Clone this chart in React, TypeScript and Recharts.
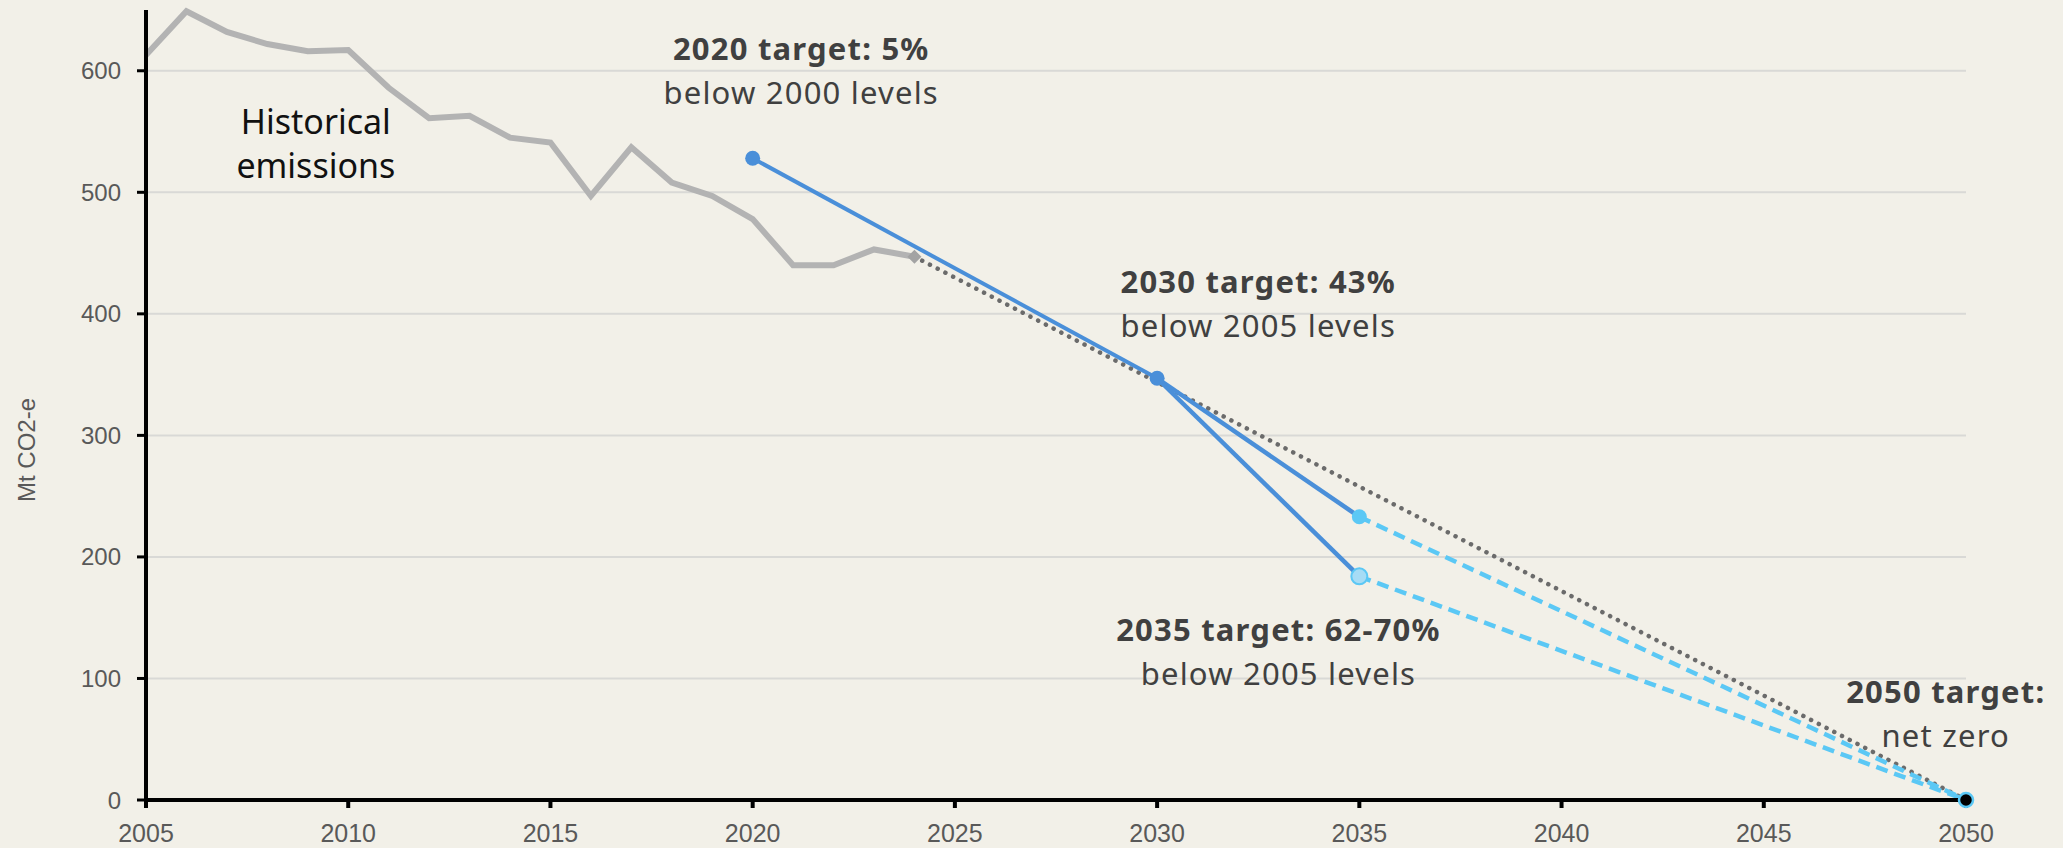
import React from "react";
import {
  LineChart,
  Line,
  XAxis,
  YAxis,
  CartesianGrid,
  ReferenceDot,
  Label,
} from "recharts";

// historical emissions, Mt CO2-e
const histYears = [
  2005, 2006, 2007, 2008, 2009, 2010, 2011, 2012, 2013, 2014, 2015, 2016,
  2017, 2018, 2019, 2020, 2021, 2022, 2023, 2024,
];
const histValues = [
  613, 649, 632, 622, 616, 617, 586, 561, 563, 545, 541, 497, 537, 508, 497,
  478, 440, 440, 453, 447,
];

// straight-line trend from latest year to net zero
const trendYears = [2024, 2050];
const trendValues = [447, 0];

// target pathways
const path2020Years = [2020, 2030];
const path2020Values = [528, 347];
const path2035Years = [2030, 2035];
const path2035HighValues = [347, 233];
const path2035LowValues = [347, 184];
const tailYears = [2035, 2050];
const tailHighValues = [233, 0];
const tailLowValues = [184, 0];

const xTicks = [2005, 2010, 2015, 2020, 2025, 2030, 2035, 2040, 2045, 2050];
const yTicks = [0, 100, 200, 300, 400, 500, 600];

const notes = [
  { year: 2009.2, value: 548, head: "Historical", sub: "emissions", plain: true },
  { year: 2021.2, value: 609, head: "2020 target: 5%", sub: "below 2000 levels", plain: false },
  { year: 2032.5, value: 417, head: "2030 target: 43%", sub: "below 2005 levels", plain: false },
  { year: 2033.0, value: 131, head: "2035 target: 62-70%", sub: "below 2005 levels", plain: false },
  { year: 2049.5, value: 80, head: "2050 target:", sub: "net zero", plain: false },
];

const toPoints = (xs: number[], ys: number[]) =>
  xs.map((year, i) => ({ year, value: ys[i] }));

const BG = "#f2f0e8";
const BLUE = "#4a8fd9";
const SKY = "#5bc8f5";
const NOTE_FONT = "'Noto Sans', sans-serif";
const TICK_FONT = "'Liberation Sans', Arial, sans-serif";

function onlyFirst(render: (cx: number, cy: number) => React.ReactElement) {
  return (p: any) => {
    if (p.index !== 0 || p.cx == null) return <g key={`x-${p.index}`} />;
    return <g key={`d-${p.index}`}>{render(p.cx, p.cy)}</g>;
  };
}

function NoteText(props: any) {
  const { viewBox, note } = props;
  const x = viewBox.x + viewBox.width / 2;
  const y = viewBox.y + viewBox.height / 2;
  if (note.plain) {
    return (
      <g fontFamily={NOTE_FONT} fontSize={34} fill="#111" textAnchor="middle">
        <text x={x} y={y}>{note.head}</text>
        <text x={x} y={y + 44}>{note.sub}</text>
      </g>
    );
  }
  return (
    <g fontFamily={NOTE_FONT} fontSize={31} fill="#404040" textAnchor="middle" letterSpacing={1.2}>
      <text x={x} y={y} fontWeight={700}>{note.head}</text>
      <text x={x} y={y + 44}>{note.sub}</text>
    </g>
  );
}

export default function App() {
  return (
    <div style={{ position: "absolute", left: 0, top: 0, width: 2063, height: 848, background: BG }}>
      <LineChart
        width={2063}
        height={848}
        margin={{ top: 10, right: 97, bottom: 0, left: 0 }}
      >
        <CartesianGrid
          vertical={false}
          horizontalValues={yTicks}
          stroke="#d9d9d6"
          strokeWidth={2}
        />
        <XAxis
          type="number"
          dataKey="year"
          domain={[2005, 2050]}
          ticks={xTicks}
          height={48}
          tickSize={8}
          tickMargin={16}
          axisLine={{ stroke: "#000", strokeWidth: 4 }}
          tickLine={{ stroke: "#000", strokeWidth: 4 }}
          tick={{ fill: "#595959", fontSize: 25, fontFamily: TICK_FONT }}
        />
        <YAxis
          type="number"
          dataKey="value"
          domain={[0, 650]}
          ticks={yTicks}
          width={146}
          tickSize={9}
          tickMargin={16}
          axisLine={{ stroke: "#000", strokeWidth: 4 }}
          tickLine={{ stroke: "#000", strokeWidth: 3 }}
          tick={{ fill: "#595959", fontSize: 24, fontFamily: TICK_FONT }}
        >
          <Label
            content={(p: any) => {
              const vb = p.viewBox;
              const cx = 26;
              const cy = vb.y + vb.height / 2 + 45;
              return (
                <text
                  x={cx}
                  y={cy}
                  transform={`rotate(-90 ${cx} ${cy})`}
                  textAnchor="middle"
                  dominantBaseline="central"
                  fill="#595959"
                  fontSize={24}
                  fontFamily="'Liberation Sans Narrow', 'Liberation Sans', sans-serif"
                >
                  Mt CO2-e
                </text>
              );
            }}
          />
        </YAxis>

        <Line
          data={toPoints(histYears, histValues)}
          dataKey="value"
          stroke="#b3b3b3"
          strokeWidth={6}
          dot={false}
          activeDot={false}
          isAnimationActive={false}
        />
        <Line
          data={toPoints(trendYears, trendValues)}
          dataKey="value"
          stroke="#6b6b6b"
          strokeWidth={4.5}
          strokeDasharray="0.1 8.6"
          strokeLinecap="round"
          dot={onlyFirst((cx, cy) => (
            <path d={`M${cx},${cy - 7} L${cx + 7},${cy} L${cx},${cy + 7} L${cx - 7},${cy} Z`} fill="#a3a3a3" />
          ))}
          activeDot={false}
          isAnimationActive={false}
        />
        <Line
          data={toPoints(path2020Years, path2020Values)}
          dataKey="value"
          stroke={BLUE}
          strokeWidth={4}
          dot={onlyFirst((cx, cy) => <circle cx={cx} cy={cy} r={7.5} fill={BLUE} />)}
          activeDot={false}
          isAnimationActive={false}
        />
        <Line
          data={toPoints(path2035Years, path2035HighValues)}
          dataKey="value"
          stroke={BLUE}
          strokeWidth={4.5}
          dot={onlyFirst((cx, cy) => <circle cx={cx} cy={cy} r={7.5} fill={BLUE} />)}
          activeDot={false}
          isAnimationActive={false}
        />
        <Line
          data={toPoints(path2035Years, path2035LowValues)}
          dataKey="value"
          stroke={BLUE}
          strokeWidth={4.5}
          dot={false}
          activeDot={false}
          isAnimationActive={false}
        />
        <Line
          data={toPoints(tailYears, tailHighValues)}
          dataKey="value"
          stroke={SKY}
          strokeWidth={4.5}
          strokeDasharray="12 7"
          dot={onlyFirst((cx, cy) => <circle cx={cx} cy={cy} r={7.5} fill={SKY} />)}
          activeDot={false}
          isAnimationActive={false}
        />
        <Line
          data={toPoints(tailYears, tailLowValues)}
          dataKey="value"
          stroke={SKY}
          strokeWidth={4.5}
          strokeDasharray="12 7"
          dot={onlyFirst((cx, cy) => (
            <circle cx={cx} cy={cy} r={8} fill="#a6dcf5" stroke={SKY} strokeWidth={2} />
          ))}
          activeDot={false}
          isAnimationActive={false}
        />
        <ReferenceDot x={2050} y={0} r={7} fill="#000" stroke={SKY} strokeWidth={2.5} />

        {notes.map((n) => (
          <ReferenceDot
            key={n.head}
            x={n.year}
            y={n.value}
            r={0}
            fill="none"
            stroke="none"
            label={(p: any) => <NoteText {...p} note={n} />}
          />
        ))}
      </LineChart>
    </div>
  );
}
